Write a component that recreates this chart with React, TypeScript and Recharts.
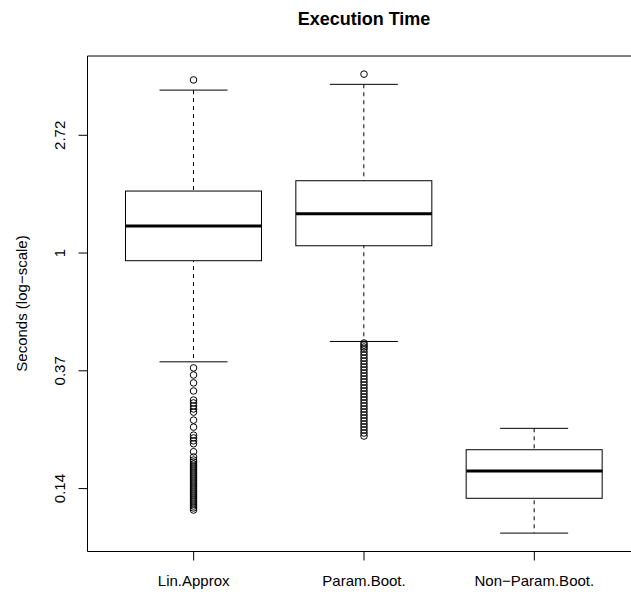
import { Bar, ComposedChart, ReferenceArea, Scatter, XAxis, YAxis } from "recharts";

// boxplot stats (seconds)
const categories = ["Lin.Approx", "Param.Boot.", "Non\u2212Param.Boot."];
const lowerWhisker = [0.397, 0.472, 0.0927];
const q1 = [0.937, 1.064, 0.1246];
const median = [1.258, 1.396, 0.1571];
const q3 = [1.693, 1.848, 0.1882];
const upperWhisker = [3.99, 4.19, 0.2257];

const linApproxOutliers = [
  4.35, 0.377, 0.355, 0.332, 0.31, 0.287, 0.28, 0.273, 0.266, 0.259, 0.242, 0.228, 0.213, 0.208,
  0.203, 0.198, 0.185, 0.177, 0.1724, 0.1695, 0.1666, 0.1638, 0.1611, 0.1584, 0.1557, 0.1531,
  0.1505, 0.148, 0.1455, 0.1431, 0.1407, 0.1383, 0.136, 0.1337, 0.1315, 0.1293, 0.1271, 0.1249,
  0.1228, 0.1208, 0.1187, 0.1167, 0.1148, 0.1128,
];
const paramBootOutliers = [
  4.57, 0.4658, 0.458, 0.4502, 0.4427, 0.4314, 0.4206, 0.4099, 0.3996, 0.3895, 0.3797, 0.3703,
  0.3609, 0.3519, 0.343, 0.3345, 0.326, 0.3178, 0.3098, 0.3021, 0.2944, 0.2871, 0.2798, 0.2728,
  0.2659, 0.2592, 0.2527, 0.2464, 0.2402, 0.2341, 0.2283, 0.2225, 0.2169, 0.2114,
];
const nonParamOutliers: number[] = [];

const yTicks = [0.1353, 0.3679, 1, 2.7183]; // e^-2 .. e^1
const yMin = 0.0793;
const yMax = 5.33;
const xMin = 0.378;
const xMax = 3.622;

const FONT = "'Liberation Sans', Arial, Helvetica, sans-serif";

const rows = categories.map((name, i) => ({
  name,
  pos: i + 1,
  whisk: [lowerWhisker[i], upperWhisker[i]],
  box: [q1[i], q3[i]],
  med: median[i],
}));

const outliers = [linApproxOutliers, paramBootOutliers, nonParamOutliers].flatMap((vals, i) =>
  vals.map((v) => ({ pos: i + 1, v }))
);

const fmt = (v: number) => String(Number(v.toFixed(2)));

function WhiskerShape(p: any) {
  const { x, y, width, height } = p;
  const cx = x + width / 2;
  return (
    <g stroke="#000" strokeWidth={1}>
      <line x1={cx} x2={cx} y1={y} y2={y + height} strokeDasharray="4 4" />
      <line x1={x} x2={x + width} y1={y} y2={y} />
      <line x1={x} x2={x + width} y1={y + height} y2={y + height} />
    </g>
  );
}

function BoxShape(p: any) {
  return <rect x={p.x} y={p.y} width={p.width} height={p.height} fill="#fff" stroke="#000" strokeWidth={1} />;
}

function MedianShape(p: any) {
  return <line x1={p.cx - 68} x2={p.cx + 68} y1={p.cy} y2={p.cy} stroke="#000" strokeWidth={3} />;
}

function OutlierShape(p: any) {
  return <circle cx={p.cx} cy={p.cy} r={3.3} fill="none" stroke="#000" strokeWidth={1} />;
}

function XTick({ x, y, payload }: any) {
  return (
    <text x={x} y={y} textAnchor="middle" fontSize={15} fontFamily={FONT} fill="#000">
      {payload.value}
    </text>
  );
}

function YTick({ x, y, payload }: any) {
  return (
    <text x={x} y={y} transform={`rotate(-90 ${x} ${y})`} textAnchor="middle" fontSize={15} fontFamily={FONT} fill="#000">
      {fmt(payload.value)}
    </text>
  );
}

export default function App() {
  return (
    <div style={{ position: "absolute", left: 0, top: 0, width: 631, height: 595, overflow: "hidden", background: "#fff" }}>
      <ComposedChart width={660} height={595} data={rows} margin={{ top: 56, right: 19.5, bottom: 0, left: 0 }}>
        <XAxis
          xAxisId="cat"
          dataKey="name"
          type="category"
          padding={{ left: 21, right: 21 }}
          height={43.5}
          axisLine={false}
          tickSize={9}
          tickMargin={25.5}
          tickLine={{ stroke: "#000" }}
          tick={<XTick />}
          interval={0}
        />
        <XAxis xAxisId="cat2" dataKey="name" type="category" padding={{ left: 21, right: 21 }} hide />
        <XAxis xAxisId="num" dataKey="pos" type="number" domain={[xMin, xMax]} allowDataOverflow hide />
        <YAxis
          scale="log"
          domain={[yMin, yMax]}
          allowDataOverflow
          ticks={yTicks}
          width={87.5}
          axisLine={false}
          tickSize={9}
          tickMargin={13.5}
          tickLine={{ stroke: "#000" }}
          tick={<YTick />}
          interval={0}
        />
        <Bar xAxisId="cat" dataKey="whisk" barSize={68} shape={<WhiskerShape />} isAnimationActive={false} />
        <Bar xAxisId="cat2" dataKey="box" barSize={136} shape={<BoxShape />} isAnimationActive={false} />
        <Scatter xAxisId="num" dataKey="med" data={rows} shape={<MedianShape />} isAnimationActive={false} />
        <Scatter xAxisId="num" dataKey="v" data={outliers} shape={<OutlierShape />} isAnimationActive={false} />
        <ReferenceArea
          xAxisId="num"
          x1={xMin}
          x2={xMax}
          y1={yMin}
          y2={yMax}
          fill="none"
          stroke="#000"
          strokeWidth={1}
          ifOverflow="visible"
        />
      </ComposedChart>
      <svg width={631} height={595} style={{ position: "absolute", left: 0, top: 0, pointerEvents: "none" }}>
        <text x={364} y={24.5} textAnchor="middle" fontSize={18} fontWeight="bold" fontFamily={FONT} fill="#000">
          Execution Time
        </text>
        <text x={26.5} y={303.5} transform="rotate(-90 26.5 303.5)" textAnchor="middle" fontSize={15} fontFamily={FONT} fill="#000">
          Seconds (log{"\u2212"}scale)
        </text>
      </svg>
    </div>
  );
}
